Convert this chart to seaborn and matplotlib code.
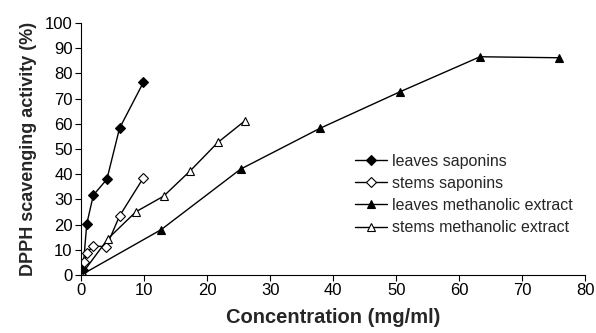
import matplotlib
matplotlib.use('Agg')
import matplotlib.pyplot as plt
import seaborn as sns

# ==== Data ====
leaves_sap_x = [0, 0.3, 0.9, 1.95, 4.1, 6.1, 9.9]
leaves_sap_y = [0, 2, 20.2, 31.7, 38, 58.2, 76.5]

stems_sap_x = [0, 0.5, 0.9, 1.95, 4.0, 6.1, 9.9]
stems_sap_y = [0, 5, 8.7, 11.6, 11.2, 23.4, 38.6]

leaves_meth_x = [0, 12.7, 25.3, 37.9, 50.6, 63.3, 75.9]
leaves_meth_y = [0, 18, 42, 58.2, 72.7, 86.6, 86.2]

stems_meth_x = [0, 4.3, 8.7, 13.1, 17.3, 21.7, 26.0]
stems_meth_y = [0, 14.5, 25.1, 31.3, 41.3, 52.6, 61.2]

series = [
    ("leaves saponins", leaves_sap_x, leaves_sap_y, "D", "black"),
    ("stems saponins", stems_sap_x, stems_sap_y, "D", "white"),
    ("leaves methanolic extract", leaves_meth_x, leaves_meth_y, "^", "black"),
    ("stems methanolic extract", stems_meth_x, stems_meth_y, "^", "white"),
]

sns.set_style("ticks")
plt.rcParams["font.family"] = ["Liberation Sans", "DejaVu Sans"]

fig = plt.figure(figsize=(5.96, 3.33), dpi=100)
ax = fig.add_axes([0.136, 0.174, 0.846, 0.757])

for label, xs, ys, mk, fc in series:
    sns.lineplot(
        x=xs, y=ys, ax=ax, color="black", linewidth=1.0, sort=False,
        marker=mk, markersize=6 if mk == "^" else 5,
        markerfacecolor=fc, markeredgecolor="black", markeredgewidth=0.8,
        label=label, estimator=None,
    )

ax.set_xlim(0, 80)
ax.set_ylim(0, 100)
ax.set_xticks(range(0, 81, 10))
ax.set_yticks(range(0, 101, 10))
ax.tick_params(labelsize=12, length=4, width=0.8, colors="black", pad=2)
for s in ["top", "right"]:
    ax.spines[s].set_visible(False)
for s in ["left", "bottom"]:
    ax.spines[s].set_color("black")
    ax.spines[s].set_linewidth(0.8)

ax.set_xlabel("Concentration (mg/ml)", fontsize=14.5, fontweight="bold", labelpad=7)
ax.set_ylabel("DPPH scavenging activity (%)", fontsize=13, fontweight="bold", labelpad=6)

ax.legend(loc="center left", bbox_to_anchor=(0.515, 0.32), frameon=False,
          fontsize=11.5, handlelength=2.0, handletextpad=0.3, labelspacing=0.45)

fig.savefig("out.png", dpi=100)
plt.close(fig)
